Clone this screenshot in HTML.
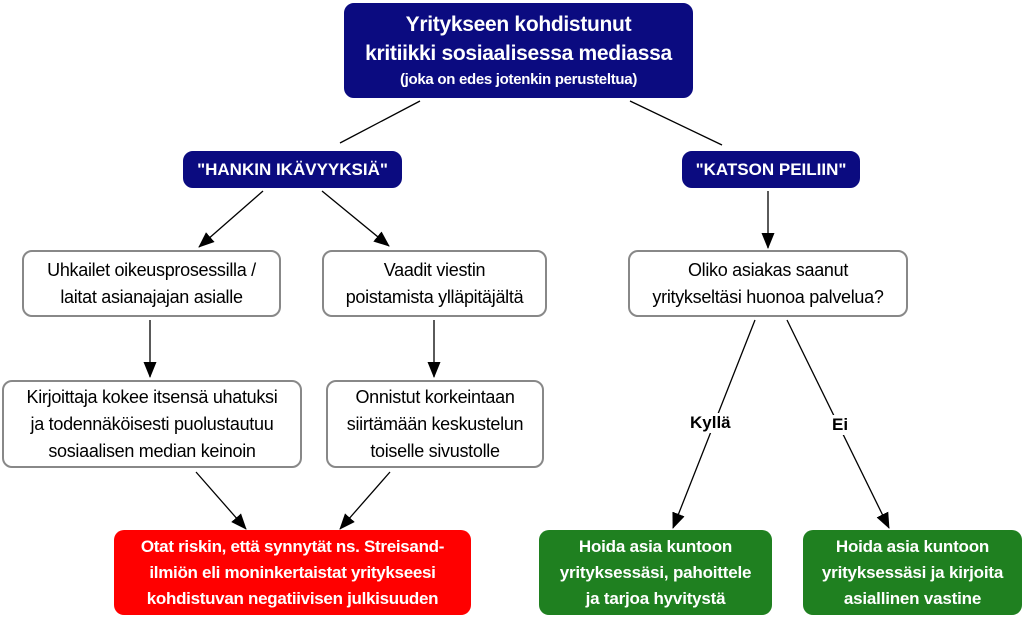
<!DOCTYPE html>
<html><head><meta charset="utf-8"><style>
body{margin:0;width:1024px;height:621px;background:#fff;position:relative;overflow:hidden;font-family:"Liberation Sans",Arial,sans-serif;}
.b{position:absolute;box-sizing:border-box;display:flex;flex-direction:column;align-items:center;justify-content:center;text-align:center;border-radius:10px;white-space:nowrap;}
.n{background:#0b0b80;color:#fff;font-weight:bold;border:1px solid #0b0b80;}
.w{background:#fff;border:2px solid #888;color:#000;font-size:18px;line-height:27px;letter-spacing:-0.3px;}
.r{background:#ff0000;color:#fff;font-weight:bold;font-size:17px;line-height:26px;letter-spacing:-0.3px;}
.g{background:#1f8020;color:#fff;font-weight:bold;font-size:17px;line-height:26px;letter-spacing:-0.2px;}
.l{position:absolute;font-weight:bold;font-size:17px;background:#fff;}
svg{position:absolute;left:0;top:0}
</style></head><body>
<svg width="1024" height="621">
<defs><marker id="a" markerWidth="16" markerHeight="14" refX="15" refY="6.5" orient="auto" markerUnits="userSpaceOnUse"><path d="M0,0 L16,6.5 L0,13 z" fill="#000"/></marker></defs>
<g stroke="#000" stroke-width="1.3">
<line x1="420" y1="101" x2="340" y2="143"/>
<line x1="630" y1="101" x2="722" y2="145"/>
<line x1="263" y1="191" x2="199" y2="247" marker-end="url(#a)"/>
<line x1="322" y1="191" x2="389" y2="246" marker-end="url(#a)"/>
<line x1="768" y1="191" x2="768" y2="248" marker-end="url(#a)"/>
<line x1="150" y1="320" x2="150" y2="377" marker-end="url(#a)"/>
<line x1="434" y1="320" x2="434" y2="377" marker-end="url(#a)"/>
<line x1="196" y1="472" x2="246" y2="529" marker-end="url(#a)"/>
<line x1="390" y1="472" x2="340" y2="529" marker-end="url(#a)"/>
<line x1="755" y1="320" x2="673" y2="528" marker-end="url(#a)"/>
<line x1="787" y1="320" x2="889" y2="528" marker-end="url(#a)"/>
</g></svg>
<div class="l" style="left:690px;top:413px;">Kyllä</div>
<div class="l" style="left:832px;top:415px;">Ei</div>
<div class="b n" style="left:344px;top:3px;width:349px;height:95px;font-size:21px;line-height:29px;letter-spacing:-0.3px;">Yritykseen kohdistunut<br>kritiikki sosiaalisessa mediassa<span style="font-size:15px;line-height:24px">(joka on edes jotenkin perusteltua)</span></div>
<div class="b n" style="left:183px;top:151px;width:219px;height:37px;font-size:17px;">"HANKIN IKÄVYYKSIÄ"</div>
<div class="b n" style="left:682px;top:151px;width:178px;height:37px;font-size:17px;">"KATSON PEILIIN"</div>
<div class="b w" style="left:22px;top:250px;width:259px;height:67px;">Uhkailet oikeusprosessilla /<br>laitat asianajajan asialle</div>
<div class="b w" style="left:322px;top:250px;width:225px;height:67px;">Vaadit viestin<br>poistamista ylläpitäjältä</div>
<div class="b w" style="left:628px;top:250px;width:280px;height:67px;">Oliko asiakas saanut<br>yritykseltäsi huonoa palvelua?</div>
<div class="b w" style="left:2px;top:380px;width:300px;height:88px;">Kirjoittaja kokee itsensä uhatuksi<br>ja todennäköisesti puolustautuu<br>sosiaalisen median keinoin</div>
<div class="b w" style="left:326px;top:380px;width:218px;height:88px;">Onnistut korkeintaan<br>siirtämään keskustelun<br>toiselle sivustolle</div>
<div class="b r" style="left:114px;top:530px;width:357px;height:85px;">Otat riskin, että synnytät ns. Streisand-<br>ilmiön eli moninkertaistat yritykseesi<br>kohdistuvan negatiivisen julkisuuden</div>
<div class="b g" style="left:539px;top:530px;width:233px;height:85px;">Hoida asia kuntoon<br>yrityksessäsi, pahoittele<br>ja tarjoa hyvitystä</div>
<div class="b g" style="left:803px;top:530px;width:219px;height:85px;">Hoida asia kuntoon<br>yrityksessäsi ja kirjoita<br>asiallinen vastine</div>
</body></html>
